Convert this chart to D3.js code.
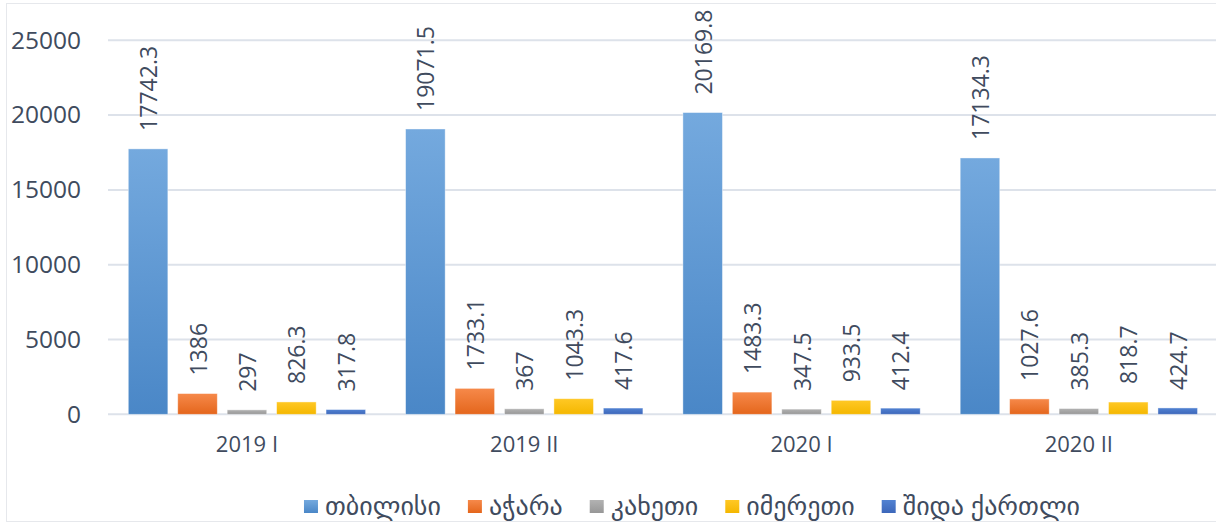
<!DOCTYPE html>
<html>
<head>
<meta charset="utf-8">
<script src="https://cdn.jsdelivr.net/npm/d3@7"></script>
<style>
  body { margin: 0; background: #fff; }
  text { font-family: "Open Sans", "DejaVu Sans", sans-serif; fill: #404b5e; }
</style>
</head>
<body>
<div class="chart"></div>
<script>
// categories + series
const periods = ["2019 I", "2019 II", "2020 I", "2020 II"];
const regions = ["თბილისი", "აჭარა", "კახეთი", "იმერეთი", "შიდა ქართლი"];
const tbilisi = [17742.3, 19071.5, 20169.8, 17134.3];
const adjara = [1386, 1733.1, 1483.3, 1027.6];
const kakheti = [297, 367, 347.5, 385.3];
const imereti = [826.3, 1043.3, 933.5, 818.7];
const shidaKartli = [317.8, 417.6, 412.4, 424.7];
const yTicks = [0, 5000, 10000, 15000, 20000, 25000];

// top / bottom of each bar gradient
const colors = [
  ["#74a9de", "#4a87c7"],
  ["#f6894a", "#e4661c"],
  ["#b2b2b2", "#979797"],
  ["#ffc825", "#f4b700"],
  ["#5182d2", "#3d67ba"]
];

const series = [tbilisi, adjara, kakheti, imereti, shidaKartli];

const width = 1216;
const height = 526;

const svg = d3.select(".chart").append("svg")
  .attr("width", width)
  .attr("height", height);

// faint frame round the chart
svg.append("rect")
  .attr("x", 6.5).attr("y", 3.5)
  .attr("width", width).attr("height", 518)
  .attr("fill", "none")
  .attr("stroke", "#e6e8ec");

const defs = svg.append("defs");
colors.forEach((c, i) => {
  const g = defs.append("linearGradient")
    .attr("id", "grad" + i)
    .attr("x1", 0).attr("y1", 0).attr("x2", 0).attr("y2", 1);
  g.append("stop").attr("offset", "0%").attr("stop-color", c[0]);
  g.append("stop").attr("offset", "100%").attr("stop-color", c[1]);
});

const x0 = d3.scaleBand().domain(periods).range([108.3, 1217.5]);
const x1 = d3.scaleBand().domain(regions)
  .range([20, x0.bandwidth() - 20])
  .paddingInner(0.2);
const y = d3.scaleLinear().domain([0, 25000]).range([414.3, 40.3]);

// gridlines
svg.append("g")
  .selectAll("line")
  .data(yTicks)
  .join("line")
  .attr("x1", 108).attr("x2", width)
  .attr("y1", d => y(d)).attr("y2", d => y(d))
  .attr("stroke", "#dde2ea")
  .attr("stroke-width", 2);

// y axis labels
const yAxis = svg.append("g")
  .attr("transform", "translate(108,0)")
  .call(d3.axisLeft(y).tickValues(yTicks).tickSize(0).tickPadding(27).tickFormat(d3.format("d")));
yAxis.select(".domain").remove();
yAxis.selectAll("text")
  .style("font-size", "24.5px")
  .attr("fill", "#404b5e")
  .attr("font-family", null);

// x axis labels
const xAxis = svg.append("g")
  .attr("transform", "translate(0,414.3)")
  .call(d3.axisBottom(x0).tickSize(0).tickPadding(22));
xAxis.select(".domain").remove();
xAxis.selectAll("text")
  .style("font-size", "22px")
  .attr("fill", "#404b5e")
  .attr("font-family", null);

// bars
const groups = svg.append("g")
  .selectAll("g")
  .data(periods)
  .join("g")
  .attr("transform", d => `translate(${x0(d)},0)`);

const cells = groups.selectAll("g")
  .data((p, pi) => regions.map((r, ri) => ({ r, ri, v: series[ri][pi] })))
  .join("g");

cells.append("rect")
  .attr("x", d => x1(d.r))
  .attr("y", d => y(d.v))
  .attr("width", x1.bandwidth())
  .attr("height", d => y(0) - y(d.v))
  .attr("fill", d => `url(#grad${d.ri})`)
  .attr("stroke", "#ffffff")
  .attr("stroke-opacity", 0.5)
  .attr("stroke-width", 0.8);

// rotated value labels
cells.append("text")
  .attr("transform", d => `translate(${x1(d.r) + x1.bandwidth() / 2},${y(d.v) - 18}) rotate(-90)`)
  .attr("dominant-baseline", "central")
  .style("font-size", "23px")
  .text(d => d.v);

// legend
const legend = svg.append("g").attr("transform", "translate(0,500)");
const items = legend.selectAll("g")
  .data(regions)
  .join("g");
items.append("rect")
  .attr("y", 0)
  .attr("width", 14).attr("height", 13)
  .attr("fill", (d, i) => `url(#grad${i})`);
items.append("text")
  .attr("x", 21)
  .attr("y", 15)
  .style("font-size", "26px")
  .text(d => d);

let pos = 0;
const offsets = [];
items.each(function () {
  offsets.push(pos);
  pos += 21 + this.querySelector("text").getComputedTextLength() + 27;
});
const total = pos - 27;
const start = 692 - total / 2;
items.attr("transform", (d, i) => `translate(${start + offsets[i]},0)`);
</script>
</body>
</html>
